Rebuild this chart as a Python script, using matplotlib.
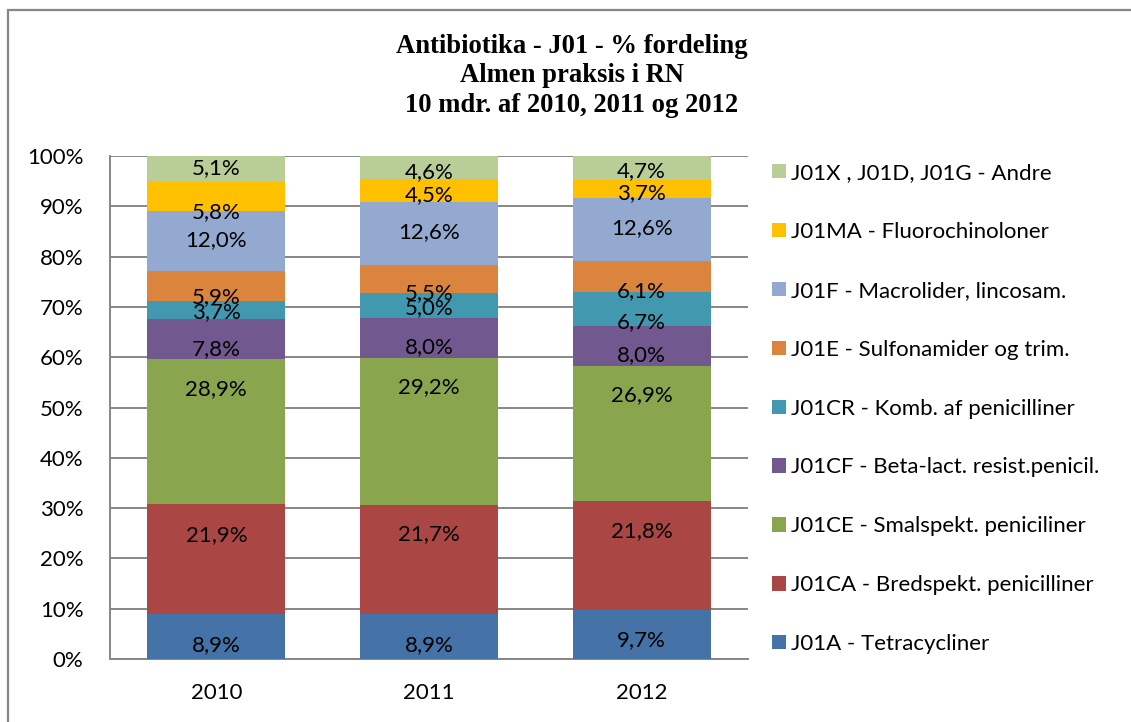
import matplotlib
matplotlib.use("Agg")
import matplotlib.pyplot as plt
from matplotlib.patches import Rectangle, Patch
import numpy as np

# ---- data ----
years = ["2010", "2011", "2012"]
series_names = [
    "J01A - Tetracycliner",
    "J01CA - Bredspekt. penicilliner",
    "J01CE - Smalspekt. peniciliner",
    "J01CF - Beta-lact. resist.penicil.",
    "J01CR - Komb. af penicilliner",
    "J01E - Sulfonamider og trim.",
    "J01F - Macrolider, lincosam.",
    "J01MA - Fluorochinoloner",
    "J01X , J01D, J01G - Andre",
]
j01a = [8.9, 8.9, 9.7]
j01ca = [21.9, 21.7, 21.8]
j01ce = [28.9, 29.2, 26.9]
j01cf = [7.8, 8.0, 8.0]
j01cr = [3.7, 5.0, 6.7]
j01e = [5.9, 5.5, 6.1]
j01f = [12.0, 12.6, 12.6]
j01ma = [5.8, 4.5, 3.7]
andre = [5.1, 4.6, 4.7]
series_values = [j01a, j01ca, j01ce, j01cf, j01cr, j01e, j01f, j01ma, andre]
yticks = [0, 10, 20, 30, 40, 50, 60, 70, 80, 90, 100]
ytick_labels = ["0%", "10%", "20%", "30%", "40%", "50%", "60%", "70%", "80%", "90%", "100%"]

# ---- style / layout ----
colors = ["#4572A7", "#AA4643", "#89A54E", "#71588F", "#4198AF",
          "#DB843D", "#93A9CF", "#FFC000", "#B9CD96"]
# label vertical positions (in % units of the axis), as placed in the original
label_pos = [
    [2.8, 2.8, 3.8],
    [24.7, 24.9, 25.4],
    [53.7, 54.1, 52.5],
    [61.6, 62.0, 60.4],
    [69.0, 69.8, 67.0],
    [72.0, 72.8, 73.2],
    [83.3, 84.9, 85.7],
    [88.9, 92.2, 92.6],
    [97.6, 96.8, 97.0],
]
W, H = 1131, 722
FONT = ["Lato", "DejaVu Sans"]
FS = 16

plt.rcParams['font.family'] = FONT
fig = plt.figure(figsize=(W / 100, H / 100), dpi=100)
fig.patch.set_facecolor("white")

# outer chart border (cropped on right / bottom)
fig.add_artist(Rectangle((8 / W, -0.05), 1.2, 1 - 10 / H + 0.05,
                         transform=fig.transFigure, fill=False,
                         edgecolor="#868686", linewidth=1.6))

ax = fig.add_axes([110 / W, (H - 659) / H, (748 - 110) / W, (659 - 156) / H])

x = np.arange(len(years))
vals = np.array(series_values, dtype=float)
totals = vals.sum(axis=0)
pct = vals / totals * 100.0
bottom = np.zeros(len(years))
handles = []
for i, name in enumerate(series_names):
    ax.bar(x, pct[i], bottom=bottom, width=0.65, color=colors[i],
           linewidth=0, zorder=3)
    for j in range(len(years)):
        ax.text(x[j], label_pos[i][j], f"{vals[i][j]:.1f}%".replace(".", ","),
                ha="center", va="center", fontsize=FS, color="black", zorder=5)
    bottom += pct[i]
    handles.append(Patch(facecolor=colors[i], edgecolor="none", label=name))

ax.set_xlim(-0.5, 2.5)
ax.set_ylim(0, 100)
ax.set_yticks(yticks)
ax.set_yticklabels(ytick_labels)
ax.set_xticks(x)
ax.set_xticklabels(years)
ax.tick_params(axis="y", length=0, pad=19, labelsize=FS)
ax.tick_params(axis="x", length=0, pad=17, labelsize=FS)
ax.grid(axis="y", color="#878787", linewidth=1.4, zorder=0)
ax.set_axisbelow(True)
for s in ["top", "right"]:
    ax.spines[s].set_visible(False)
for s in ["left", "bottom"]:
    ax.spines[s].set_color("#878787")
    ax.spines[s].set_linewidth(1.4)

leg = fig.legend(handles=handles[::-1], loc="upper left",
                 bbox_to_anchor=(772 / W, 1 - 163 / H),
                 frameon=False, fontsize=FS, handlelength=0.62,
                 handleheight=0.62, handletextpad=0.25, labelspacing=1.75,
                 borderpad=0, borderaxespad=0)

fig.text(572 / W, 1 - 76 / H,
         "Antibiotika - J01 - % fordeling\nAlmen praksis i RN\n10 mdr. af 2010, 2011 og 2012",
         ha="center", va="center", fontsize=19.2, fontweight="bold",
         family=["Liberation Serif", "DejaVu Serif"], linespacing=1.22)

fig.savefig("out.png", dpi=100, facecolor="white")
